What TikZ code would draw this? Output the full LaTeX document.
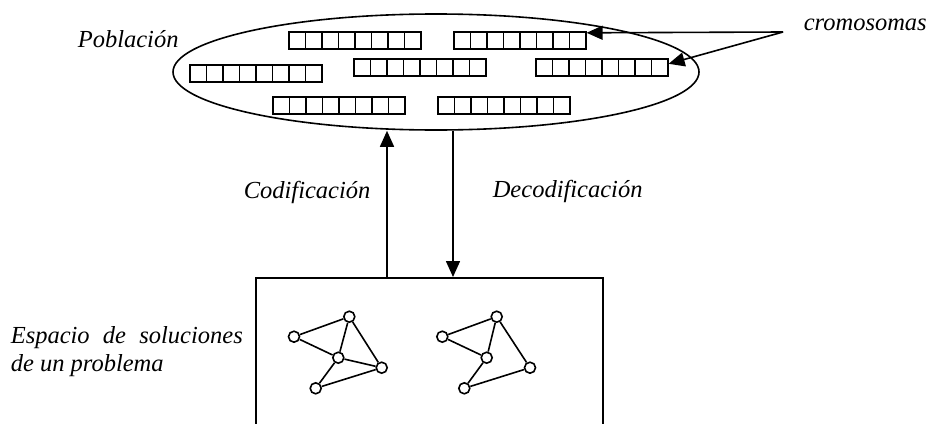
\documentclass[tikz,border=0pt]{standalone}
\usepackage{fontspec}
\setmainfont{Liberation Serif}
\usetikzlibrary{arrows.meta,calc,shapes.geometric}

\begin{document}
\begin{tikzpicture}[x=1pt,y=-1pt,
  line width=1.6pt,
  lbl/.style={anchor=base west, inner sep=0pt, font=\fontsize{24.5}{29}\selectfont\itshape},
  chrom/.style={draw, rectangle, minimum width=132pt, minimum height=17pt,
    inner sep=0pt, anchor=north west,
    path picture={\foreach \k in {1,...,7}{
      \draw ($(path picture bounding box.south west)!\k/8!(path picture bounding box.south east)$)
         -- ($(path picture bounding box.north west)!\k/8!(path picture bounding box.north east)$);}}},
  vtx/.style={draw, circle, fill=white, minimum size=11pt, inner sep=0pt},
  arr/.style={-{Triangle[length=16pt,width=14pt]}},
]
\clip (0,0) rectangle (931,423);

% population of chromosomes
\node[draw, ellipse, minimum width=526pt, minimum height=116pt, inner sep=0pt] (pob) at (436,72) {};
\node[chrom] (c1) at (288,31) {};
\node[chrom] (c2) at (453,31) {};
\node[chrom] (c3) at (189,64) {};
\node[chrom] (c4) at (353,58) {};
\node[chrom] (c5) at (535,58) {};
\node[chrom] (c6) at (272,96) {};
\node[chrom] (c7) at (437,96) {};

\node[lbl] (tpob) at (77,47) {Población};
\node[lbl] (tcrom) at (803,30) {cromosomas};
\coordinate (src) at (783,32);
\draw[arr] (src) -- ([yshift=7.5pt]c2.east);
\draw[arr] (src) -- ([yshift=3.5pt]c5.east);

% solution space
\node[draw, rectangle, anchor=north west, minimum width=347pt, minimum height=170pt, inner sep=0pt] (esp) at (255,277) {};

\coordinate (upx) at (387,0);
\coordinate (dnx) at (453,0);
\draw[arr] (esp.north -| upx) -- (pob.south -| upx);
\draw[arr] (pob.south -| dnx) -- (esp.north -| dnx);
\node[lbl] (tcod) at (243,198) {Codificación};
\node[lbl] (tdec) at (492,197) {Decodificación};

\node[lbl] (tesp1) at (10,343) {\makebox[232pt][l]{Espacio\hfill de\hfill soluciones}};
\node[lbl] (tesp2) at (10,371) {de un problema};

% first graph
\node[vtx] (a1) at (349.3,316.7) {};
\node[vtx] (b1) at (294,336.7) {};
\node[vtx] (m1) at (338.3,357.7) {};
\node[vtx] (d1) at (381.7,367.7) {};
\node[vtx] (e1) at (315.7,388.3) {};
\draw (b1) -- (a1) (b1) -- (m1) (a1) -- (m1) (a1) -- (d1)
      (m1) -- (d1) (m1) -- (e1) (e1) -- (d1);

% second graph
\node[vtx] (a2) at (496.7,316.7) {};
\node[vtx] (b2) at (442.3,336.7) {};
\node[vtx] (m2) at (486.7,357.7) {};
\node[vtx] (d2) at (530,367.7) {};
\node[vtx] (e2) at (464.3,388.3) {};
\draw (b2) -- (a2) (b2) -- (m2) (a2) -- (m2) (a2) -- (d2)
      (m2) -- (e2) (e2) -- (d2);
\end{tikzpicture}
\end{document}
